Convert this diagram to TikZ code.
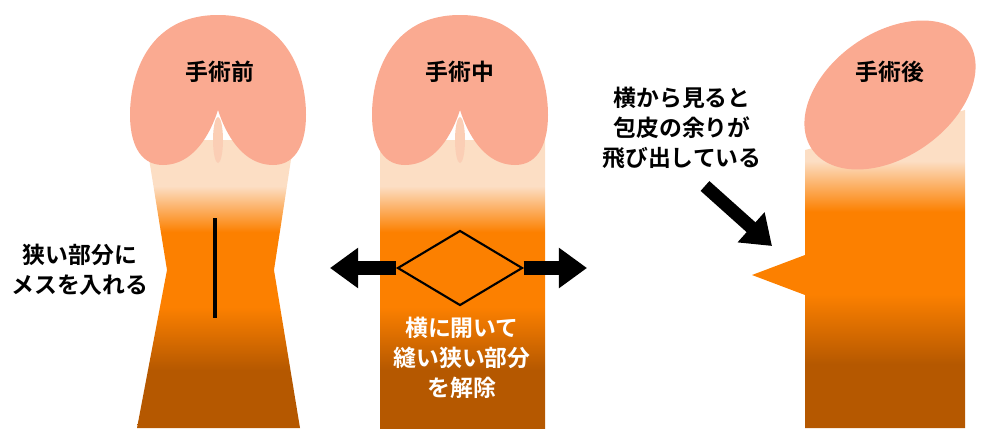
\documentclass[tikz,border=0pt]{standalone}
\usepackage{fontspec}
\setmainfont{Noto Sans CJK JP}[BoldFont={* Bold}]
\usetikzlibrary{arrows.meta,shapes.geometric}
\definecolor{light}{RGB}{252,222,196}
\definecolor{orng}{RGB}{252,128,0}
\definecolor{brwn}{RGB}{181,88,0}
\definecolor{headc}{RGB}{250,170,145}
\pgfdeclareverticalshading{skin}{100bp}{color(0bp)=(brwn); color(35bp)=(brwn); color(46bp)=(orng); color(59bp)=(orng); color(67bp)=(light); color(100bp)=(light)}
\def\glans#1{
  \fill[headc] (#1,110) .. controls (#1+8,135) and (#1+25,165) .. (#1+55,165)
    .. controls (#1+80,165) and (#1+88,140) .. (#1+88,115)
    .. controls (#1+88,75) and (#1+70,15) .. (#1,15)
    .. controls (#1-70,15) and (#1-88,75) .. (#1-88,115)
    .. controls (#1-88,140) and (#1-80,165) .. (#1-55,165)
    .. controls (#1-25,165) and (#1-8,135) .. (#1,110) -- cycle;
  \fill[light!70!headc] (#1,140) ellipse (5 and 23);
}
\tikzset{
  label/.style={font=\bfseries\fontsize{13}{17}\selectfont, align=center, inner sep=0pt},
  pusharrow/.style={line width=7.5, -{Triangle[length=16,width=22]}}
}
\begin{document}
\begin{tikzpicture}[x=0.02cm, y=-0.02cm]
  \useasboundingbox (0,0) rectangle (994,436);
  % before
  \shade[shading=skin] (146,140) -- (294,140) -- (274,270) -- (300,428) -- (137,428) -- (167,270) -- cycle;
  \glans{218}
  \draw[line width=2] (215,218) -- (215,318);
  \node[label] (before) at (220,72) {手術前};
  \node[label] (cuttext) at (80,270) {狭い部分に\\メスを入れる};
  % during
  \shade[shading=skin] (380,140) rectangle (545,428);
  \glans{460}
  \node[draw, line width=1.2, diamond, minimum width=125*0.02cm, minimum height=75*0.02cm, inner sep=0pt, aspect=1.67] (cut) at (460,268) {};
  \coordinate (lefttip) at (330,268);
  \coordinate (righttip) at (587,268);
  \draw[pusharrow] (cut.west) -- (lefttip);
  \draw[pusharrow] (cut.east) -- (righttip);
  \node[label] (during) at (460,72) {手術中};
  \node[label, text=white] (opentext) at (462,358) {横に開いて\\縫い狭い部分\\を解除};
  % after
  \shade[shading=skin] (805,150) -- (965,110) -- (965,428) -- (805,428) -- (805,295) -- (752,275) -- (805,255) -- cycle;
  \fill[headc, rotate around={35:(890,95)}] (890,95) ellipse (95 and 62);
  \node[label] (after) at (890,72) {手術後};
  \node[label] (sidetext) at (682,128) {横から見ると\\包皮の余りが\\飛び出している};
  \coordinate (bumptip) at (772,246);
  \draw[pusharrow] (705,186) -- (bumptip);
\end{tikzpicture}
\end{document}
